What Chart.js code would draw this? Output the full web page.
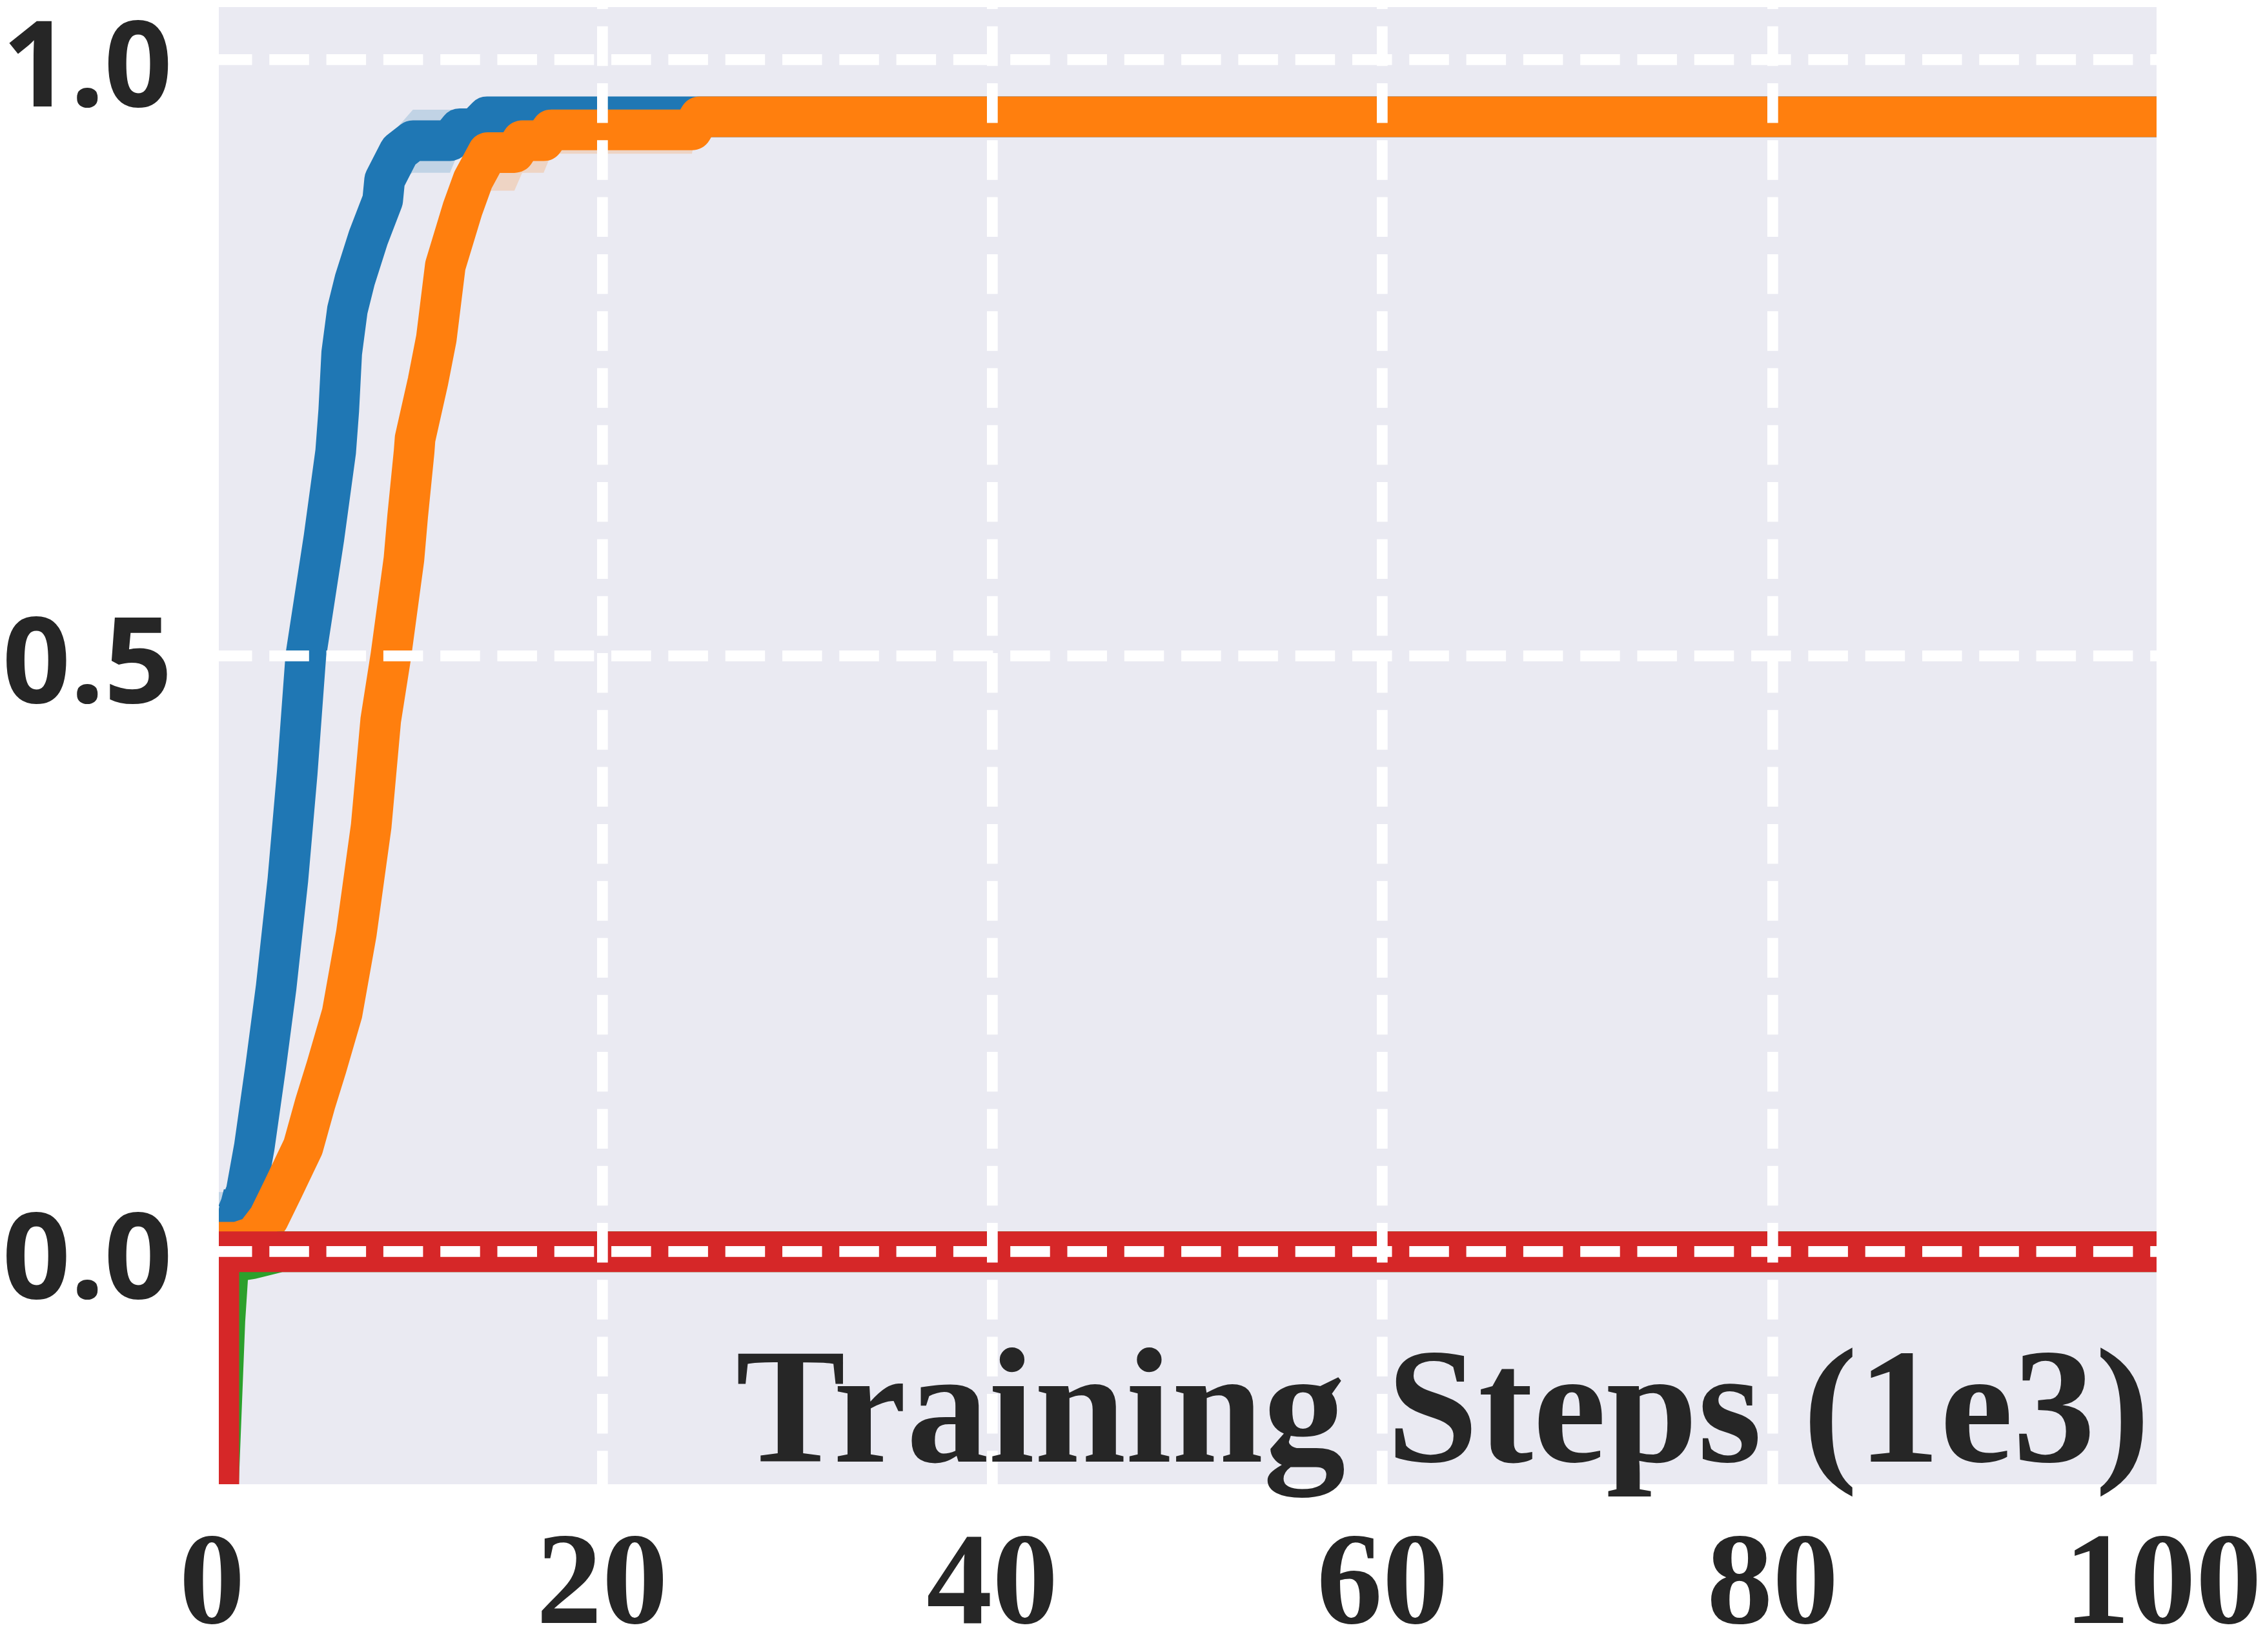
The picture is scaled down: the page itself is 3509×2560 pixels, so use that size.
<!DOCTYPE html>
<html>
<head>
<meta charset="utf-8">
<script src="https://cdn.jsdelivr.net/npm/chart.js@4.4.1/dist/chart.umd.min.js"></script>
<style>
  html, body { margin: 0; padding: 0; background: #fff; }
  canvas { display: block; }
</style>
</head>
<body>
<canvas id="chart" width="3509" height="2560" style="width:3509px;height:2560px"></canvas>
<script>
// training steps (1e3) / success values
const blueX = [0.35, 1.3, 1.75, 2.17, 2.75, 3.29, 3.89, 4.37, 4.81, 5.74, 6.34, 6.5, 6.65, 6.94, 7.32, 8.02, 8.75, 8.85, 9.6, 10.3, 12.2, 12.7, 13.5, 14.1, 99.68];
const blueY = [0.036, 0.032, 0.05, 0.088, 0.155, 0.222, 0.312, 0.402, 0.5, 0.599, 0.671, 0.706, 0.754, 0.79, 0.815, 0.851, 0.882, 0.899, 0.923, 0.932, 0.932, 0.942, 0.942, 0.952, 0.952];
const blueHi = [0.05, 0.05, 0.075, 0.12, 0.19, 0.26, 0.35, 0.44, 0.54, 0.64, 0.71, 0.75, 0.79, 0.83, 0.85, 0.88, 0.905, 0.925, 0.945, 0.958, 0.958, 0.958, 0.958, 0.953, 0.953];
const blueLo = [0.025, 0.02, 0.03, 0.06, 0.125, 0.19, 0.28, 0.37, 0.465, 0.565, 0.635, 0.67, 0.72, 0.755, 0.78, 0.82, 0.85, 0.87, 0.9, 0.905, 0.905, 0.925, 0.935, 0.951, 0.951];

const orangeX = [0.35, 1.3, 2.2, 2.9, 3.62, 4.67, 5.3, 5.87, 6.67, 7.4, 8.16, 8.65, 9.17, 9.84, 10.03, 10.36, 10.41, 11.07, 11.5, 11.96, 12.85, 13.38, 14.14, 15.5, 15.9, 17.0, 17.4, 24.6, 25.0, 99.68];
const orangeY = [0.008, 0.008, 0.013, 0.028, 0.052, 0.088, 0.125, 0.155, 0.2, 0.267, 0.357, 0.446, 0.5, 0.581, 0.617, 0.671, 0.682, 0.73, 0.766, 0.827, 0.875, 0.899, 0.922, 0.922, 0.932, 0.932, 0.941, 0.941, 0.952, 0.952];
const orangeHi = [0.015, 0.015, 0.02, 0.04, 0.065, 0.1, 0.14, 0.17, 0.215, 0.285, 0.375, 0.465, 0.52, 0.6, 0.64, 0.69, 0.7, 0.75, 0.785, 0.845, 0.89, 0.91, 0.93, 0.93, 0.94, 0.94, 0.948, 0.948, 0.953, 0.953];
const orangeLo = [0.0, 0.0, 0.005, 0.012, 0.03, 0.06, 0.09, 0.115, 0.15, 0.22, 0.31, 0.4, 0.46, 0.54, 0.58, 0.63, 0.645, 0.69, 0.725, 0.78, 0.83, 0.86, 0.89, 0.89, 0.905, 0.905, 0.921, 0.921, 0.951, 0.951];

const greenX = [0.2, 0.66, 0.85, 1.2, 2.0, 3.5, 99.68];
const greenY = [-0.25, -0.058, -0.01, -0.008, -0.006, 0, 0];

const redX = [0.35, 0.35, 99.68];
const redY = [-0.5, 0, 0];

const xTicks = [0, 20, 40, 60, 80, 100];
const yTicks = [0, 0.5, 1.0];
const xLabel = "Training Steps (1e3)";

const pts = (xs, ys) => xs.map((x, i) => ({ x: x, y: ys[i] }));

function line(xs, ys, color) {
  return {
    data: pts(xs, ys),
    borderColor: color,
    borderWidth: 63,
    borderJoinStyle: "round",
    pointRadius: 0,
    tension: 0,
    fill: false,
    clip: 0,
  };
}

function band(xs, ys, color, fill) {
  return {
    data: pts(xs, ys),
    borderColor: "rgba(0,0,0,0)",
    borderWidth: 1,
    backgroundColor: color,
    pointRadius: 0,
    tension: 0,
    fill: fill,
    clip: 0,
  };
}

// grey axes background like seaborn darkgrid
const plotBackground = {
  id: "plotBackground",
  beforeDraw(chart) {
    const { ctx, chartArea: a } = chart;
    ctx.save();
    ctx.fillStyle = "#eaeaf2";
    ctx.fillRect(a.left, a.top, a.right - a.left, a.bottom - a.top);
    ctx.restore();
  },
};

// x axis title sits inside the plot, bottom right
const insideXLabel = {
  id: "insideXLabel",
  afterDraw(chart) {
    const { ctx, chartArea: a } = chart;
    ctx.save();
    ctx.font = 'bold 255px "Liberation Serif"';
    ctx.fillStyle = "#262626";
    ctx.textAlign = "right";
    ctx.textBaseline = "alphabetic";
    ctx.fillText(xLabel, a.right - 10, a.bottom - 35);
    ctx.restore();
  },
};

new Chart(document.getElementById("chart"), {
  type: "line",
  data: {
    datasets: [
      line(redX, redY, "#d62728"),
      line(greenX, greenY, "#2ca02c"),
      line(orangeX, orangeY, "#ff7f0e"),
      line(blueX, blueY, "#1f77b4"),
      band(orangeX, orangeHi, "rgba(255,127,14,0.2)", "+1"),
      band(orangeX, orangeLo, "rgba(255,127,14,0.2)", false),
      band(blueX, blueHi, "rgba(31,119,180,0.2)", "+1"),
      band(blueX, blueLo, "rgba(31,119,180,0.2)", false),
    ],
  },
  options: {
    responsive: false,
    devicePixelRatio: 1,
    animation: false,
    layout: { padding: { top: 11, right: 168, left: 0, bottom: 0 } },
    plugins: {
      legend: { display: false },
      tooltip: { enabled: false },
    },
    scales: {
      x: {
        type: "linear",
        min: 0.35,
        max: 99.68,
        afterBuildTicks: (s) => { s.ticks = xTicks.map((v) => ({ value: v })); },
        afterFit: (s) => { s.height = 260; s.paddingLeft = 0; s.paddingRight = 0; },
        grid: { color: "#ffffff", lineWidth: 16.7, drawTicks: false, z: 1 },
        border: { display: false, dash: [61.5, 26.8], dashOffset: 58.6 },
        ticks: {
          autoSkip: false,
          maxRotation: 0,
          padding: 40,
          color: "#262626",
          font: { family: "Liberation Serif", weight: "bold", size: 204 },
          callback: (v) => String(v),
        },
      },
      y: {
        type: "linear",
        min: -0.195,
        max: 1.044,
        afterBuildTicks: (s) => { s.ticks = yTicks.map((v) => ({ value: v })); },
        afterFit: (s) => { s.width = 339; s.paddingTop = 0; s.paddingBottom = 0; },
        grid: { color: "#ffffff", lineWidth: 16.7, drawTicks: false, z: 1 },
        border: { display: false, dash: [61.5, 26.8], dashOffset: 10 },
        ticks: {
          autoSkip: false,
          padding: 72,
          labelOffset: 20,
          color: "#262626",
          font: { family: "Noto Sans", weight: "bold", size: 185 },
          callback: (v) => v.toFixed(1),
        },
      },
    },
  },
  plugins: [plotBackground, insideXLabel],
});
</script>
</body>
</html>
